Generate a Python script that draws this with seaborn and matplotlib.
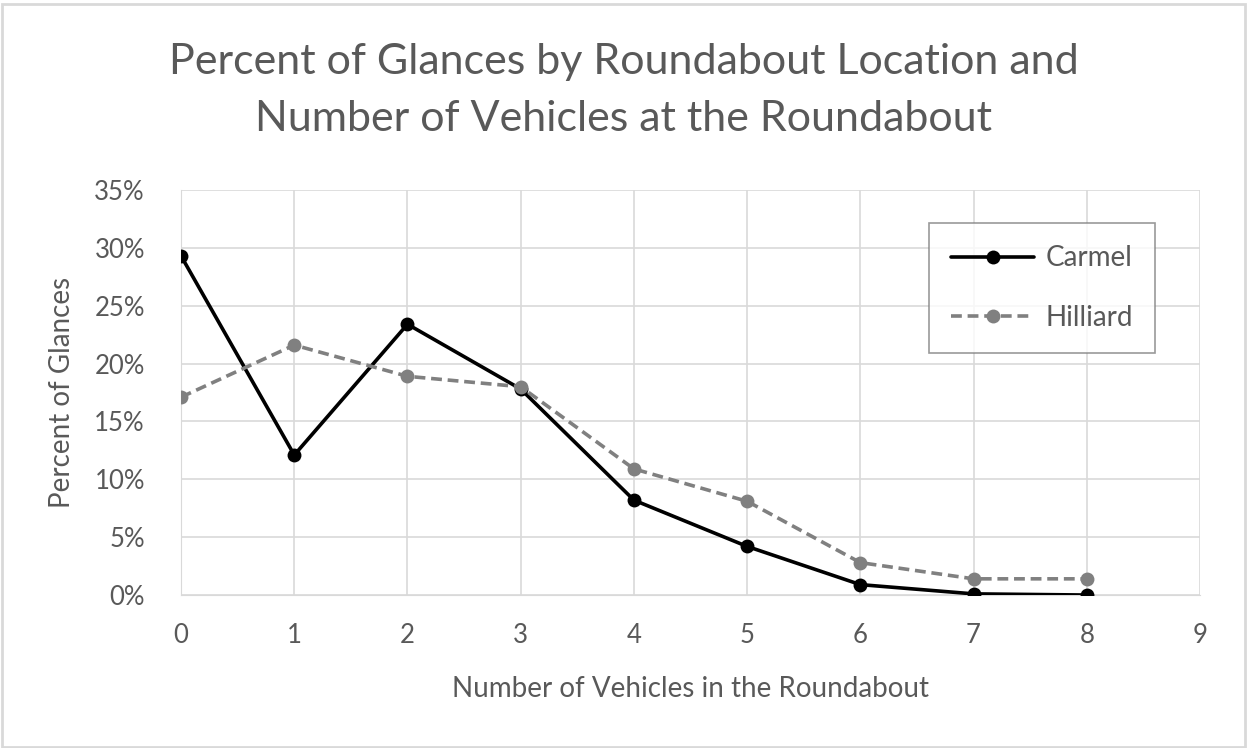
import matplotlib
matplotlib.use("Agg")
import matplotlib.pyplot as plt
from matplotlib.patches import Rectangle
from matplotlib.ticker import PercentFormatter
import seaborn as sns
import pandas as pd

vehicles = [0, 1, 2, 3, 4, 5, 6, 7, 8]
carmel = [29.3, 12.1, 23.4, 17.8, 8.2, 4.2, 0.9, 0.1, 0.0]
hilliard = [17.1, 21.6, 18.9, 18.0, 10.9, 8.1, 2.8, 1.4, 1.4]
series_names = ["Carmel", "Hilliard"]

df = pd.DataFrame({
    "Vehicles": vehicles * 2,
    "Percent": carmel + hilliard,
    "Location": [series_names[0]] * len(vehicles) + [series_names[1]] * len(vehicles),
})

sns.set_style("white")
plt.rcParams["font.family"] = ["Lato", "DejaVu Sans"]
text_color = "#595959"
grid_color = "#d9d9d9"

fig = plt.figure(figsize=(12.47, 7.48), dpi=100)
ax = fig.add_axes([0.1452, 0.2045, 0.8171, 0.5415])

sns.lineplot(
    data=df, x="Vehicles", y="Percent", hue="Location", style="Location",
    palette={"Carmel": "black", "Hilliard": "#808080"},
    dashes={"Carmel": "", "Hilliard": (3, 1.6)},
    markers={"Carmel": "o", "Hilliard": "o"},
    markersize=10, markeredgewidth=0, linewidth=2.6, ax=ax, zorder=3,
)

ax.set_xlim(0, 9)
ax.set_ylim(0, 35)
ax.set_xticks(range(0, 10))
ax.set_yticks(range(0, 36, 5))
ax.yaxis.set_major_formatter(PercentFormatter(decimals=0))
ax.grid(True, color=grid_color, linewidth=1.2)
ax.set_axisbelow(True)
for s in ax.spines.values():
    s.set_visible(False)
ax.spines["left"].set_visible(True)
ax.spines["bottom"].set_visible(True)
ax.spines["left"].set_color(grid_color)
ax.spines["bottom"].set_color(grid_color)
ax.tick_params(length=0, labelsize=18.5, colors=text_color)
ax.tick_params(axis="x", pad=20)
ax.tick_params(axis="y", pad=26)
for lab in ax.get_xticklabels() + ax.get_yticklabels():
    lab.set_color(text_color)

ax.set_xlabel("Number of Vehicles in the Roundabout", fontsize=20, color=text_color, labelpad=20)
ax.set_ylabel("Percent of Glances", fontsize=20, color=text_color, labelpad=14)

fig.suptitle("Percent of Glances by Roundabout Location and\nNumber of Vehicles at the Roundabout",
             fontsize=31, color=text_color, y=0.942, linespacing=1.6)

leg = ax.legend(loc="upper right", bbox_to_anchor=(0.956, 0.9185), fontsize=20,
                frameon=True, fancybox=False, edgecolor="#808080", borderpad=0.8,
                labelspacing=1.2, handlelength=3.0, handletextpad=0.4, borderaxespad=0)
for t in leg.get_texts():
    t.set_color(text_color)
leg.get_frame().set_linewidth(1.2)

fig.patches.append(Rectangle((0.002, 0.002), 0.996, 0.993, transform=fig.transFigure,
                             fill=False, edgecolor=grid_color, linewidth=2))

fig.savefig("out.png", dpi=100)
